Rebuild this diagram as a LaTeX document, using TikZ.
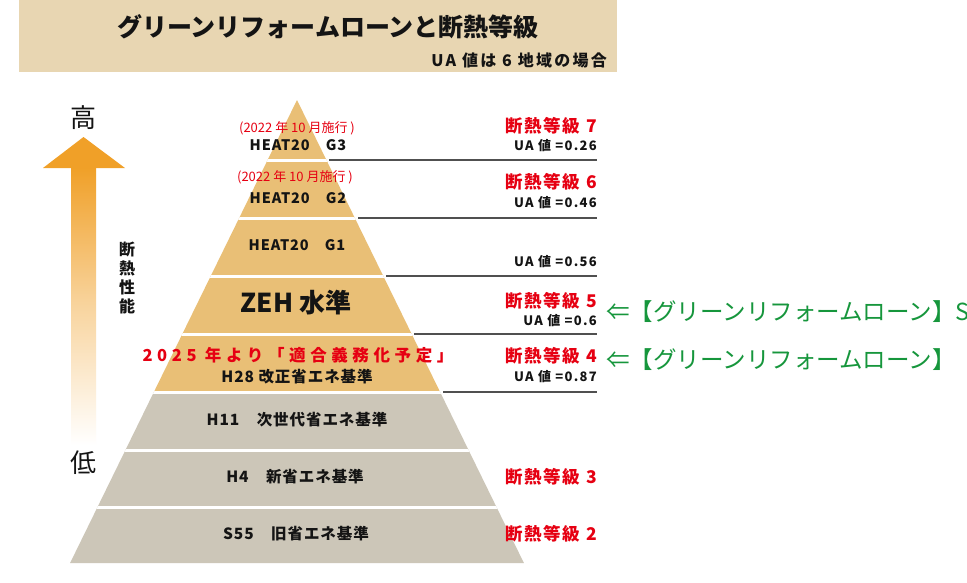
\documentclass[tikz,border=0pt]{standalone}
\usepackage{fontspec}
\setmainfont{Noto Sans CJK JP}
\newfontfamily\jpa[LetterSpace=10]{Noto Sans CJK JP}
\newfontfamily\jpb[LetterSpace=14]{Noto Sans CJK JP}
\newfontfamily\jpc[LetterSpace=28]{Noto Sans CJK JP}
\newfontfamily\jpd[LetterSpace=6]{Noto Sans CJK JP}
\definecolor{bannerc}{RGB}{232,214,178}
\definecolor{tanc}{RGB}{233,191,118}
\definecolor{grayc}{RGB}{204,198,184}
\definecolor{redc}{RGB}{230,0,18}
\definecolor{greenc}{RGB}{22,150,60}
\definecolor{orangec}{RGB}{240,160,40}
\definecolor{linec}{RGB}{80,80,80}
\definecolor{txtc}{RGB}{20,20,20}
\newcommand{\fs}[1]{\fontsize{#1}{#1}\selectfont}
\begin{document}
\begin{tikzpicture}[x=1pt,y=-1pt,
  titlestyle/.style={font=\fs{25}\bfseries, text=txtc, inner sep=0},
  substyle/.style={font=\jpb\fs{16}\bfseries, text=txtc, inner sep=0, anchor=east},
  bigchar/.style={font=\fs{26}, text=txtc, inner sep=0},
  vert/.style={font=\fs{16}\bfseries, text=txtc, inner sep=0, align=center},
  datestyle/.style={font=\fs{13}, text=redc, inner sep=0},
  heat/.style={font=\jpd\fs{14.5}\bfseries, text=txtc, inner sep=0},
  zeh/.style={font=\fs{26}\bfseries, text=txtc, inner sep=0},
  mandate/.style={font=\jpc\fs{16.5}\bfseries, text=redc, inner sep=0},
  layertxt/.style={font=\jpd\fs{15.5}\bfseries, text=txtc, inner sep=0},
  grade/.style={font=\jpa\fs{17.5}\bfseries, text=redc, inner sep=0, anchor=east},
  ua/.style={font=\jpa\fs{13}\bfseries, text=txtc, inner sep=0, anchor=east},
  loan/.style={font=\fs{23.5}, text=greenc, inner sep=0, anchor=west},
  conn/.style={draw=linec, line width=1.2pt}
]
\useasboundingbox (0,0) rectangle (967,582);
\fill[white] (0,0) rectangle (967,582);
% banner
\fill[bannerc] (19,0) rectangle (617,72);
\node[titlestyle] (title) at (328,27) {グリーンリフォームローンと断熱等級};
\node[substyle] (sub) at (607,60) {UA 値は 6 地域の場合};

% arrow
\fill[orangec] (43,168) -- (83.5,137) -- (125,168) -- cycle;
\shade[top color=orangec, bottom color=white, middle color=orangec!45] (71,167.5) rectangle (96,445);
\node[bigchar] (high) at (83,118) {高};
\node[bigchar] (low) at (83,463) {低};
\node[vert] (perf) at (127,278) {断\\[3pt]熱\\[3pt]性\\[3pt]能};

% pyramid
\fill[tanc] (297,100) -- (440.1,392) -- (153.9,392) -- cycle;
\fill[grayc] (153.9,392) -- (440.1,392) -- (523.9,563) -- (70.1,563) -- cycle;
\begin{scope}
  \clip (297,100) -- (523.9,563) -- (70.1,563) -- cycle;
  \foreach \yy in {160,218,276,334,392,450,507}
    \draw[white, line width=3pt] (0,\yy) -- (967,\yy);
\end{scope}

% connector lines
\coordinate (l1a) at (329,160); \coordinate (l1b) at (597,160);
\coordinate (l2a) at (358,218); \coordinate (l2b) at (597,218);
\coordinate (l3a) at (386,276); \coordinate (l3b) at (597,276);
\coordinate (l4a) at (414,334); \coordinate (l4b) at (597,334);
\coordinate (l5a) at (443,392); \coordinate (l5b) at (597,392);
\draw[conn] (l1a) -- (l1b);
\draw[conn] (l2a) -- (l2b);
\draw[conn] (l3a) -- (l3b);
\draw[conn] (l4a) -- (l4b);
\draw[conn] (l5a) -- (l5b);

% pyramid texts
\node[datestyle] (d3) at (297,128) {(2022 年 10 月施行 )};
\node[heat] (g3) at (298,145) {HEAT20　G3};
\node[datestyle] (d2) at (295,177) {(2022 年 10 月施行 )};
\node[heat] (g2) at (298,198) {HEAT20　G2};
\node[heat] (g1) at (297,245) {HEAT20　G1};
\node[zeh] (zehn) at (296,303) {ZEH 水準};
\node[mandate] (m25) at (298,355) {2025 年より「適合義務化予定」};
\node[layertxt] (h28) at (297,377) {H28 改正省エネ基準};
\node[layertxt] (h11) at (297,420) {H11　次世代省エネ基準};
\node[layertxt] (h4) at (295,477) {H4　新省エネ基準};
\node[layertxt] (s55) at (296,534) {S55　旧省エネ基準};

% right labels
\node[grade] (k7) at (597,126) {断熱等級 7};
\node[ua] (u7) at (597,146) {UA 値 =0.26};
\node[grade] (k6) at (597,182) {断熱等級 6};
\node[ua] (u6) at (597,203) {UA 値 =0.46};
\node[ua] (u56) at (597,262) {UA 値 =0.56};
\node[grade] (k5) at (597,301) {断熱等級 5};
\node[ua] (u5) at (597,321) {UA 値 =0.6};
\node[grade] (k4) at (597,356) {断熱等級 4};
\node[ua] (u4) at (597,377) {UA 値 =0.87};
\node[grade] (k3) at (597,477) {断熱等級 3};
\node[grade] (k2) at (597,534) {断熱等級 2};

% green loan labels
\node[loan] (gl5) at (606,312) {⇐【グリーンリフォームローン】S};
\node[loan] (gl4) at (606,360) {⇐【グリーンリフォームローン】};
\end{tikzpicture}
\end{document}
